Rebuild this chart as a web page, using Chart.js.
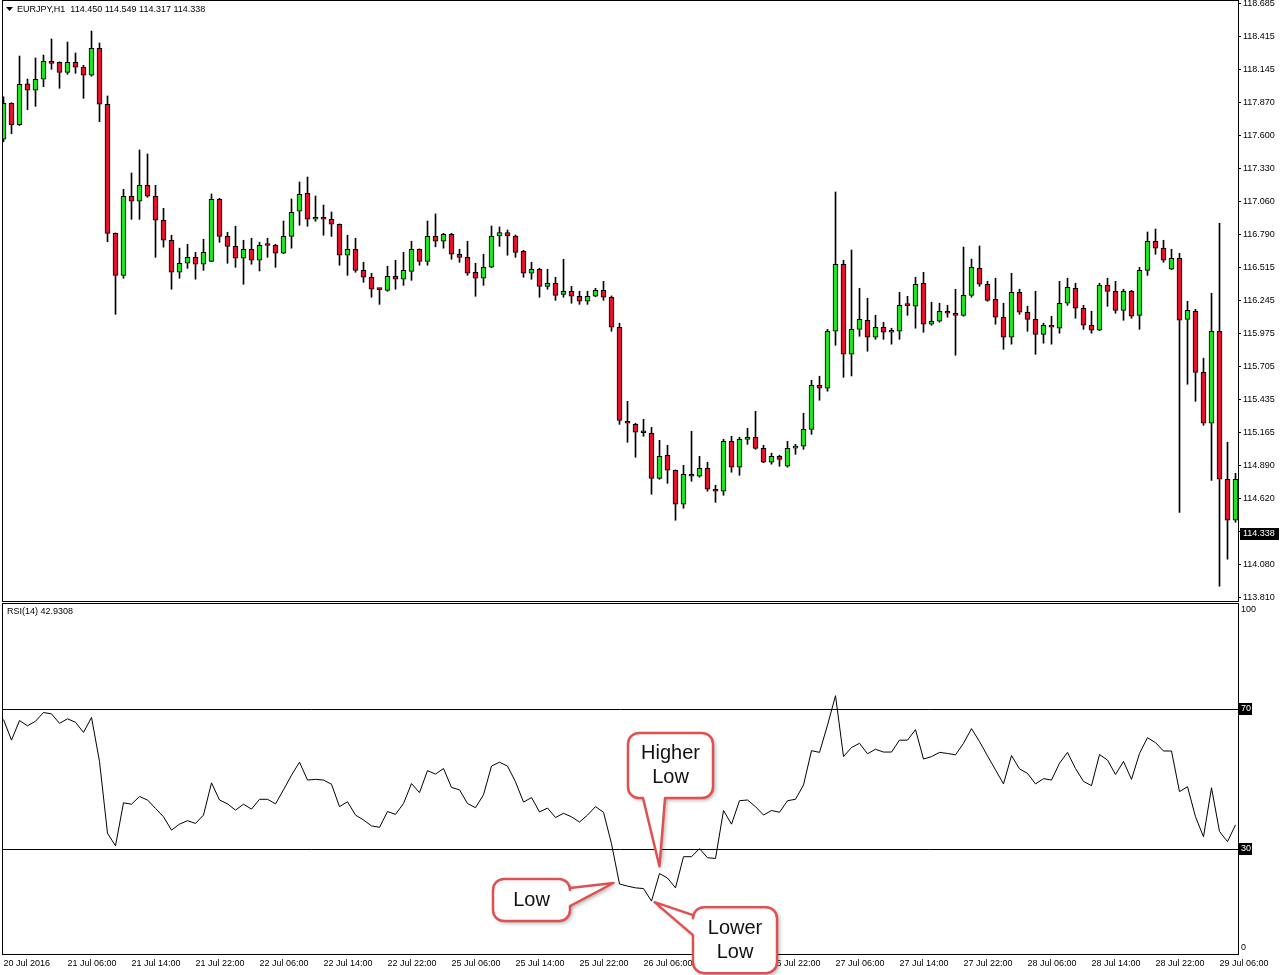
<!DOCTYPE html>
<html>
<head>
<meta charset="utf-8">
<title>EURJPY,H1</title>
<script src="https://cdn.jsdelivr.net/npm/chart.js"></script>
<style>
  body { margin: 0; background: #fff; }
  #wrap { position: relative; width: 1281px; height: 975px; overflow: hidden; }
  #priceChart { position: absolute; left: 0; top: 0; }
  #rsiChart { position: absolute; left: 0; top: 602px; }
</style>
</head>
<body>
<div id="wrap">
  <canvas id="priceChart" width="1281" height="602"></canvas>
  <canvas id="rsiChart" width="1281" height="373"></canvas>
</div>
<script>
// EURJPY H1 candles, 20 Jul 22:00 .. 29 Jul 06:00
const opens = [117.575,117.870,117.695,118.030,117.977,118.067,118.215,118.207,118.124,118.207,
  118.166,118.100,118.321,117.862,116.803,116.458,117.107,117.066,117.197,117.107,
  116.910,116.746,116.483,116.557,116.606,116.549,116.573,117.082,116.778,116.696,
  116.598,116.672,116.582,116.705,116.705,116.639,116.778,116.984,117.131,116.918,
  116.935,116.918,116.877,116.623,116.672,116.499,116.442,116.344,116.335,116.450,
  116.426,116.491,116.672,116.573,116.778,116.738,116.795,116.631,116.606,116.483,
  116.434,116.524,116.781,116.808,116.781,116.655,116.475,116.508,116.368,116.393,
  116.302,116.327,116.286,116.245,116.286,116.335,116.278,116.032,115.260,115.235,
  115.170,115.161,114.792,114.981,114.858,114.579,114.825,114.809,114.874,114.702,
  114.686,115.096,114.883,115.112,115.129,115.038,114.924,114.973,114.891,115.040,
  115.055,115.194,115.556,115.531,115.999,116.549,115.810,116.015,116.089,115.950,
  116.032,115.991,115.999,116.212,116.204,116.393,116.057,116.081,116.163,116.147,
  116.130,116.294,116.516,116.385,116.261,116.114,115.950,116.319,116.155,116.097,
  115.974,116.048,116.024,116.229,116.352,116.188,116.048,116.007,116.376,116.327,
  116.171,116.327,116.130,116.499,116.738,116.681,116.508,116.598,116.097,116.163,
  115.662,115.244,115.999,114.784,114.448];
const highs = [117.924,117.875,118.258,118.069,118.242,118.266,118.398,118.210,118.373,118.283,
  118.182,118.463,118.365,117.930,116.806,117.164,117.298,117.487,117.454,117.197,
  117.008,116.787,116.681,116.713,116.647,116.754,117.126,117.090,116.811,116.861,
  116.746,116.762,116.730,116.762,116.713,116.904,117.085,117.224,117.265,117.109,
  117.035,116.978,116.880,116.787,116.762,116.565,116.475,116.352,116.532,116.582,
  116.647,116.738,116.675,116.904,116.962,116.803,116.803,116.672,116.738,116.557,
  116.631,116.863,116.855,116.830,116.789,116.664,116.565,116.516,116.508,116.442,
  116.590,116.368,116.327,116.327,116.352,116.409,116.289,116.065,115.424,115.244,
  115.276,115.210,115.104,115.063,114.861,114.899,115.178,114.973,114.924,114.735,
  115.112,115.137,115.129,115.202,115.342,115.063,114.998,114.981,115.096,115.071,
  115.326,115.597,115.630,116.015,117.142,116.582,116.666,116.352,116.270,116.130,
  116.073,116.024,116.319,116.286,116.442,116.483,116.237,116.229,116.212,116.344,
  116.690,116.591,116.699,116.409,116.434,116.229,116.475,116.344,116.204,116.327,
  116.065,116.122,116.409,116.434,116.393,116.212,116.163,116.393,116.434,116.409,
  116.344,116.335,116.524,116.814,116.838,116.746,116.672,116.639,116.245,116.179,
  115.778,116.311,116.884,115.088,114.833];
const lows = [117.555,117.621,117.688,117.818,117.845,118.006,118.149,117.993,118.108,118.116,
  117.911,118.092,117.719,116.734,116.138,116.434,116.918,116.918,117.099,116.606,
  116.689,116.344,116.434,116.516,116.426,116.499,116.570,116.729,116.557,116.524,
  116.385,116.549,116.494,116.606,116.524,116.636,116.681,116.869,116.861,116.902,
  116.787,116.778,116.541,116.458,116.483,116.401,116.278,116.220,116.327,116.344,
  116.376,116.417,116.541,116.541,116.692,116.681,116.590,116.565,116.458,116.286,
  116.376,116.520,116.696,116.623,116.606,116.442,116.426,116.278,116.344,116.253,
  116.278,116.229,116.220,116.220,116.283,116.253,115.999,115.235,115.088,114.965,
  115.137,114.661,114.784,114.751,114.448,114.546,114.768,114.801,114.686,114.595,
  114.653,114.842,114.817,115.071,115.030,114.920,114.908,114.891,114.883,114.989,
  115.030,115.153,115.433,115.507,115.884,115.621,115.632,115.958,115.835,115.933,
  115.933,115.893,115.933,116.130,116.024,115.991,116.048,116.073,116.114,115.802,
  116.122,116.278,116.368,116.245,116.057,115.851,115.893,116.138,115.999,115.810,
  115.901,115.893,115.983,116.212,116.106,116.015,115.983,116.004,116.204,116.147,
  116.089,116.106,116.015,116.458,116.631,116.565,116.505,114.513,115.564,115.424,
  115.227,114.775,113.906,114.128,114.431];
const closes = [117.870,117.692,118.026,117.977,118.067,118.215,118.198,118.124,118.207,118.166,
  118.100,118.321,117.862,116.803,116.458,117.107,117.066,117.197,117.107,116.910,
  116.746,116.483,116.557,116.606,116.549,116.647,117.082,116.778,116.696,116.598,
  116.672,116.582,116.705,116.703,116.639,116.778,116.975,117.123,116.918,116.935,
  116.918,116.877,116.623,116.672,116.499,116.442,116.344,116.341,116.450,116.426,
  116.499,116.672,116.573,116.778,116.738,116.795,116.631,116.606,116.475,116.434,
  116.524,116.781,116.808,116.781,116.647,116.475,116.508,116.368,116.393,116.294,
  116.327,116.286,116.245,116.286,116.335,116.278,116.032,115.268,115.244,115.170,
  115.166,114.792,114.973,114.858,114.579,114.825,114.809,114.874,114.702,114.686,
  115.096,114.883,115.112,115.129,115.038,114.924,114.973,114.948,115.038,115.043,
  115.194,115.556,115.531,115.999,116.549,115.810,116.015,116.097,115.950,116.032,
  115.991,115.996,116.212,116.209,116.385,116.057,116.081,116.163,116.147,116.130,
  116.294,116.524,116.385,116.253,116.114,115.950,116.319,116.155,116.097,115.974,
  116.048,116.032,116.229,116.360,116.188,116.048,116.007,116.376,116.327,116.171,
  116.327,116.122,116.499,116.738,116.681,116.582,116.598,116.089,116.171,115.662,
  115.244,115.999,114.784,114.448,114.784];

// RSI(14)
const rsiValues = [67.0,61.1,66.7,65.2,66.5,69.0,68.6,65.9,67.2,66.2,
  63.3,67.6,55.0,34.5,30.9,43.2,42.8,45.0,44.0,41.6,
  39.2,35.4,37.1,38.1,37.3,39.7,48.9,44.0,42.9,41.1,
  42.8,41.4,44.2,44.2,42.9,46.9,51.1,54.8,49.7,49.9,
  49.7,48.5,42.1,43.5,39.7,38.3,36.6,36.2,40.7,39.9,
  43.0,48.7,46.1,52.4,51.4,53.0,47.6,46.9,43.0,41.8,
  45.5,53.7,54.8,53.7,49.2,43.4,44.7,40.6,41.7,39.0,
  40.2,39.2,37.7,39.7,42.1,40.5,31.5,20.0,19.4,18.9,
  18.7,15.1,23.0,21.7,18.9,27.8,27.8,30.1,27.5,27.3,
  41.0,37.1,43.8,44.0,42.1,39.7,41.0,40.5,43.8,44.2,
  48.3,58.1,57.6,65.4,73.8,56.4,59.0,60.2,57.2,58.5,
  57.7,57.7,61.1,61.1,64.1,55.7,56.4,57.6,57.3,56.9,
  60.2,64.4,60.7,56.6,52.6,48.6,56.7,52.9,51.6,48.6,
  50.1,49.7,54.5,57.6,53.0,49.3,48.1,57.0,55.4,51.3,
  55.0,49.9,57.3,61.8,60.4,58.0,58.0,46.4,47.8,39.2,
  33.5,47.5,35.0,32.1,36.9];
const rsiLevels = [70, 30];

// axis labels
const tickLabels = ['20 Jul 2016','21 Jul 06:00','21 Jul 14:00','21 Jul 22:00','22 Jul 06:00',
  '22 Jul 14:00','22 Jul 22:00','25 Jul 06:00','25 Jul 14:00','25 Jul 22:00','26 Jul 06:00',
  '26 Jul 14:00','26 Jul 22:00','27 Jul 06:00','27 Jul 14:00','27 Jul 22:00','28 Jul 06:00',
  '28 Jul 14:00','28 Jul 22:00','29 Jul 06:00'];
const tickStep = 8; // one label every 8 bars
const priceTickLabels = ['118.685','118.415','118.145','117.870','117.600','117.330','117.060',
  '116.790','116.515','116.245','115.975','115.705','115.435','115.165','114.890','114.620',
  '114.350','114.080','113.810'];
const rsiTickLabels = ['100', '70', '30', '0'];
const rsiTickValues = [100, 70, 30, 0];
const lastPrice = 114.338;
const headerText = 'EURJPY,H1  114.450 114.549 114.317 114.338';
const rsiText = 'RSI(14) 42.9308';

// callouts on the RSI line
const callouts = [
  { lines: ['Higher', 'Low'], index: 82, tip: [0, -7], box: [-31.5, -140.5, 85, 65], side: 'bottom', base: [15, 37] },
  { lines: ['Low'], index: 77, tip: [-6, -1], box: [-126.5, -5, 77, 42], side: 'right', base: [9, 27] },
  { lines: ['Lower', 'Low'], index: 81, tip: [3, 1], box: [41.5, 6, 84, 66], side: 'left', base: [8, 28] }
];

const bullColor = '#1ee31e';
const bearColor = '#e5112a';
const FONT = '"Liberation Sans", Arial, sans-serif';

Chart.defaults.font.family = FONT;
Chart.defaults.font.size = 9;
Chart.defaults.color = '#000';

const xMin = -0.0625, xMax = 154.3125;

const bodyData = opens.map((o, i) => ({ x: i, y: [o, closes[i]] }));
const wickData = opens.map((o, i) => ({ x: i, y: [lows[i], highs[i]] }));
const bodyColors = opens.map((o, i) => closes[i] >= o ? bullColor : bearColor);

const first = parseFloat(priceTickLabels[0]);
const last = parseFloat(priceTickLabels[priceTickLabels.length - 1]);
const priceTickValues = priceTickLabels.map((t, k) => first + (last - first) * k / (priceTickLabels.length - 1));

function frame(ctx, a) {
  ctx.strokeStyle = '#000';
  ctx.lineWidth = 1;
  ctx.strokeRect(a.left - 0.5, a.top - 0.5, a.right - a.left + 1, a.bottom - a.top + 1);
}

function yAxisFit(s) {
  s.width = 43;
  s.paddingTop = 0;
  s.paddingBottom = 0;
}

const pricePanel = {
  id: 'pricePanel',
  afterDraw(chart) {
    const { ctx, chartArea: a } = chart;
    const y = chart.scales.y;
    ctx.save();
    frame(ctx, a);
    // header
    ctx.fillStyle = '#000';
    ctx.beginPath();
    ctx.moveTo(6, 7); ctx.lineTo(13, 7); ctx.lineTo(9.5, 11);
    ctx.closePath();
    ctx.fill();
    ctx.font = '9px ' + FONT;
    ctx.textBaseline = 'middle';
    ctx.textAlign = 'left';
    ctx.fillText(headerText, 17, 10);
    // current price box
    const py = Math.round(y.getPixelForValue(lastPrice));
    ctx.fillRect(a.right + 2, py - 6, 39, 12);
    ctx.fillStyle = '#fff';
    ctx.fillText(lastPrice.toFixed(3), a.right + 5, py);
    ctx.restore();
  }
};

new Chart(document.getElementById('priceChart'), {
  type: 'bar',
  data: {
    datasets: [
      { label: 'body', data: bodyData, backgroundColor: bodyColors, borderColor: '#000',
        borderWidth: 1, borderSkipped: false, barThickness: 5, minBarLength: 2, grouped: false, order: 0 },
      { label: 'wick', data: wickData, backgroundColor: '#000', borderWidth: 0,
        barThickness: 1, grouped: false, order: 1 }
    ]
  },
  options: {
    responsive: false,
    animation: false,
    devicePixelRatio: 1,
    events: [],
    layout: { padding: { left: 3, top: 1, right: 0, bottom: 1 } },
    plugins: { legend: { display: false }, tooltip: { enabled: false } },
    scales: {
      x: { type: 'linear', min: xMin, max: xMax, bounds: 'data', offset: false, display: false },
      y: {
        position: 'right', min: 113.7851, max: 118.7096, bounds: 'data', beginAtZero: false,
        afterBuildTicks: s => { s.ticks = priceTickValues.map(v => ({ value: v })); },
        afterFit: yAxisFit,
        ticks: { autoSkip: false, padding: 2, callback: (v, i) => priceTickLabels[i] },
        grid: { drawOnChartArea: false, drawTicks: true, tickLength: 3, color: '#000' },
        border: { display: false }
      }
    }
  },
  plugins: [pricePanel]
});

function bubblePath(ctx, x, y, w, h, r, side, b0, b1, tx, ty) {
  ctx.beginPath();
  ctx.moveTo(x + r, y);
  if (side === 'top') { ctx.lineTo(x + b0, y); ctx.lineTo(tx, ty); ctx.lineTo(x + b1, y); }
  ctx.lineTo(x + w - r, y);
  ctx.arcTo(x + w, y, x + w, y + r, r);
  if (side === 'right') { ctx.lineTo(x + w, y + b0); ctx.lineTo(tx, ty); ctx.lineTo(x + w, y + b1); }
  ctx.lineTo(x + w, y + h - r);
  ctx.arcTo(x + w, y + h, x + w - r, y + h, r);
  if (side === 'bottom') { ctx.lineTo(x + b1, y + h); ctx.lineTo(tx, ty); ctx.lineTo(x + b0, y + h); }
  ctx.lineTo(x + r, y + h);
  ctx.arcTo(x, y + h, x, y + h - r, r);
  if (side === 'left') { ctx.lineTo(x, y + b1); ctx.lineTo(tx, ty); ctx.lineTo(x, y + b0); }
  ctx.lineTo(x, y + r);
  ctx.arcTo(x, y, x + r, y, r);
  ctx.closePath();
}

const rsiPanel = {
  id: 'rsiPanel',
  beforeDraw(chart) {
    // black boxes behind the 70 / 30 labels
    const { ctx, chartArea: a } = chart;
    const y = chart.scales.y;
    ctx.save();
    ctx.fillStyle = '#000';
    rsiLevels.forEach(l => {
      const py = Math.round(y.getPixelForValue(l));
      ctx.fillRect(a.right + 1, py - 6, 13, 12);
    });
    ctx.restore();
  },
  beforeDatasetsDraw(chart) {
    const { ctx, chartArea: a } = chart;
    const y = chart.scales.y;
    ctx.save();
    ctx.strokeStyle = '#000';
    ctx.lineWidth = 1;
    rsiLevels.forEach(l => {
      const py = Math.round(y.getPixelForValue(l)) + 0.5;
      ctx.beginPath();
      ctx.moveTo(a.left, py);
      ctx.lineTo(a.right, py);
      ctx.stroke();
    });
    ctx.restore();
  },
  afterDraw(chart) {
    const { ctx, chartArea: a } = chart;
    const xs = chart.scales.x, ys = chart.scales.y;
    ctx.save();
    frame(ctx, a);
    ctx.fillStyle = '#000';
    ctx.font = '9px ' + FONT;
    ctx.textBaseline = 'middle';
    ctx.textAlign = 'left';
    ctx.fillText(rsiText, 7, 10);

    callouts.forEach(c => {
      const px = xs.getPixelForValue(c.index);
      const py = ys.getPixelForValue(rsiValues[c.index]);
      const tx = px + c.tip[0], ty = py + c.tip[1];
      const bx = px + c.box[0], by = py + c.box[1], bw = c.box[2], bh = c.box[3];
      ctx.save();
      ctx.shadowColor = 'rgba(0,0,0,0.35)';
      ctx.shadowBlur = 4;
      ctx.shadowOffsetX = 2;
      ctx.shadowOffsetY = 2;
      bubblePath(ctx, bx, by, bw, bh, 11, c.side, c.base[0], c.base[1], tx, ty);
      ctx.fillStyle = '#fff';
      ctx.fill();
      ctx.restore();
      bubblePath(ctx, bx, by, bw, bh, 11, c.side, c.base[0], c.base[1], tx, ty);
      ctx.strokeStyle = '#e05050';
      ctx.lineWidth = 2.5;
      ctx.lineJoin = 'round';
      ctx.stroke();
      ctx.fillStyle = '#111';
      ctx.font = '20px ' + FONT;
      ctx.textAlign = 'center';
      ctx.textBaseline = 'middle';
      const cy = by + bh / 2 - (c.lines.length - 1) * 12;
      c.lines.forEach((t, k) => ctx.fillText(t, bx + bw / 2, cy + k * 24));
    });
    ctx.restore();
  }
};

new Chart(document.getElementById('rsiChart'), {
  type: 'line',
  data: {
    datasets: [{
      label: 'RSI(14)',
      data: rsiValues.map((v, i) => ({ x: i, y: v })),
      borderColor: '#000', borderWidth: 1, pointRadius: 0, tension: 0, fill: false
    }]
  },
  options: {
    responsive: false,
    animation: false,
    devicePixelRatio: 1,
    events: [],
    layout: { padding: { left: 3, top: 2, right: 0, bottom: 0 } },
    plugins: { legend: { display: false }, tooltip: { enabled: false } },
    scales: {
      x: {
        type: 'linear', min: xMin, max: xMax, bounds: 'data', offset: false,
        afterBuildTicks: s => { s.ticks = tickLabels.map((t, k) => ({ value: k * tickStep })); },
        afterFit: s => { s.height = 21; s.paddingLeft = 0; s.paddingRight = 0; },
        ticks: { autoSkip: false, maxRotation: 0, minRotation: 0, align: 'start', padding: 4,
          callback: (v, i) => tickLabels[i] },
        grid: { display: false, drawTicks: false },
        border: { display: false }
      },
      y: {
        position: 'right', min: 0, max: 100, bounds: 'data',
        afterBuildTicks: s => {
          // top and bottom labels sit just inside the panel, as in MT4
          s.ticks = rsiTickValues.map(v => ({ value: v === 100 ? 98.3 : v === 0 ? 1.9 : v }));
        },
        afterFit: yAxisFit,
        ticks: { autoSkip: false, padding: 0,
          color: c => rsiLevels.includes(rsiTickValues[c.index]) ? '#fff' : '#000',
          callback: (v, i) => rsiTickLabels[i] },
        grid: { drawOnChartArea: false, drawTicks: true, tickLength: 3,
          color: c => rsiLevels.includes(rsiTickValues[c.index]) ? '#000' : 'rgba(0,0,0,0)' },
        border: { display: false }
      }
    }
  },
  plugins: [rsiPanel]
});
</script>
</body>
</html>
